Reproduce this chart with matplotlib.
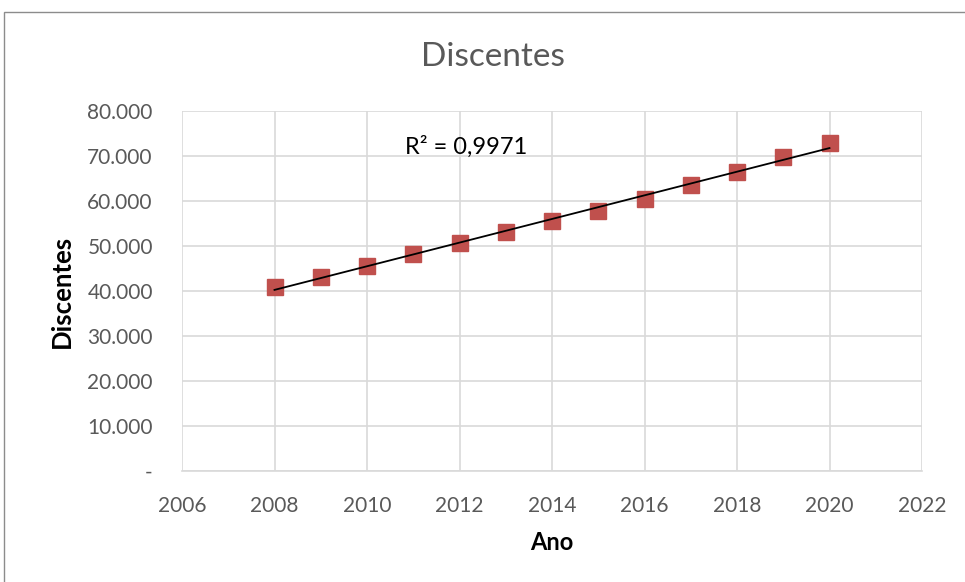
import matplotlib.pyplot as plt
import numpy as np
from matplotlib.patches import Rectangle
from matplotlib.ticker import FuncFormatter, MultipleLocator

plt.rcParams["font.family"] = ["Lato", "DejaVu Sans"]

anos = [2008, 2009, 2010, 2011, 2012, 2013, 2014, 2015, 2016, 2017, 2018, 2019, 2020]
discentes = [40960, 43100, 45600, 48200, 50700, 53200, 55500, 57800, 60400, 63500, 66500, 69800, 72800]
r2_text = "R² = 0,9971"

fig = plt.figure(figsize=(9.65, 5.82), dpi=100)
ax = fig.add_axes([182 / 965, 1 - 471 / 582, 740 / 965, 360 / 582])

# chart-area border (Excel style)
fig.patches.append(Rectangle((4 / 965, -0.1), 1.2, 1 - 12 / 582 + 0.1, transform=fig.transFigure,
                             fill=False, edgecolor="#8c8c8c", linewidth=1.0))

x = np.array(anos, dtype=float)
y = np.array(discentes, dtype=float)
coef = np.polyfit(x, y, 1)
ax.plot(x, np.polyval(coef, x), color="black", lw=1.3, zorder=3)
ax.plot(x, y, ls="none", marker="s", ms=11.5, color="#C0504D", mec="#C0504D", zorder=2)

ax.set_xlim(2006, 2022)
ax.set_ylim(0, 80000)
ax.xaxis.set_major_locator(MultipleLocator(2))
ax.yaxis.set_major_locator(MultipleLocator(10000))


def fmt(v, pos):
    if abs(v) < 1e-9:
        return "-"
    return f"{int(v):,}".replace(",", ".")


ax.yaxis.set_major_formatter(FuncFormatter(fmt))
ax.grid(True, color="#d9d9d9", lw=1.2)
ax.set_axisbelow(True)
for s in ["left", "right", "top"]:
    ax.spines[s].set_visible(False)
ax.spines["bottom"].set_color("#d9d9d9")
ax.spines["bottom"].set_linewidth(1.2)
ax.tick_params(length=0, labelsize=15, labelcolor="#595959")
ax.tick_params(axis="x", pad=18)
ax.tick_params(axis="y", pad=21)

ax.text(2010.83, 72000, r2_text, fontsize=17, color="black", ha="left", va="center")

fig.text(493 / 965, 1 - 57 / 582, "Discentes", fontsize=24, color="#595959", ha="center", va="center")
ax.set_xlabel("Ano", fontsize=17, fontweight="bold")
ax.set_ylabel("Discentes", fontsize=18.5, fontweight="bold")
ax.xaxis.set_label_coords(0.5, -(531 - 471) / 360)
ax.yaxis.set_label_coords((74 - 182) / 740, 0.5)

fig.savefig("out.png", dpi=100)
